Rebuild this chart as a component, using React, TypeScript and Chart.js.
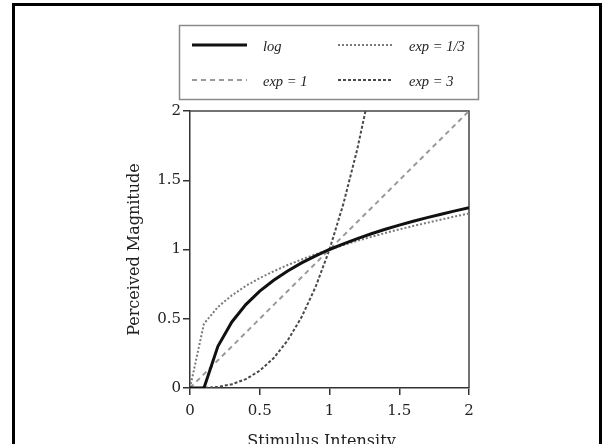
import React, { useEffect, useRef } from "react";
import { Chart, registerables } from "chart.js";

Chart.register(...registerables);

// ---- data ----
const stimulus = [0, 0.1, 0.2, 0.3, 0.4, 0.5, 0.6, 0.7, 0.8, 0.9, 1.0, 1.1, 1.2, 1.3, 1.4, 1.5, 1.6, 1.7, 1.8, 1.9, 2.0];
const logValues = [0, 0, 0.301, 0.477, 0.602, 0.699, 0.778, 0.845, 0.903, 0.954, 1.0, 1.041, 1.079, 1.114, 1.146, 1.176, 1.204, 1.23, 1.255, 1.279, 1.301];
const expThirdValues = [0, 0.464, 0.585, 0.669, 0.737, 0.794, 0.843, 0.888, 0.928, 0.965, 1.0, 1.032, 1.063, 1.091, 1.119, 1.145, 1.17, 1.193, 1.216, 1.239, 1.26];
const expOneValues = [0, 0.1, 0.2, 0.3, 0.4, 0.5, 0.6, 0.7, 0.8, 0.9, 1.0, 1.1, 1.2, 1.3, 1.4, 1.5, 1.6, 1.7, 1.8, 1.9, 2.0];
const expThreeValues = [0, 0.001, 0.008, 0.027, 0.064, 0.125, 0.216, 0.343, 0.512, 0.729, 1.0, 1.331, 1.728, 2.197];
const seriesLabels = ["log", "exp = 1/3", "exp = 1", "exp = 3"];
const axisTicks = [0, 0.5, 1, 1.5, 2];
const xTitle = "Stimulus Intensity";
const yTitle = "Perceived Magnitude";

const SERIF = "'DejaVu Serif', serif";

const toPoints = (ys: number[]) => ys.map((y, i) => ({ x: stimulus[i], y }));

const framePlugin = {
  id: "frameAndLegend",
  beforeDraw(chart: any) {
    const ctx = chart.ctx;
    ctx.save();
    ctx.fillStyle = "#ffffff";
    ctx.fillRect(0, 0, chart.width, chart.height);
    ctx.strokeStyle = "#000000";
    ctx.lineWidth = 3;
    ctx.beginPath();
    ctx.moveTo(13.5, chart.height);
    ctx.lineTo(13.5, 4.5);
    ctx.lineTo(chart.width - 1.5, 4.5);
    ctx.lineTo(chart.width - 1.5, chart.height);
    ctx.stroke();
    ctx.restore();
  },
  beforeDatasetsDraw(chart: any) {
    const { ctx, chartArea } = chart;
    ctx.save();
    ctx.strokeStyle = "#444";
    ctx.lineWidth = 1.5;
    ctx.beginPath();
    ctx.moveTo(chartArea.left, chartArea.top);
    ctx.lineTo(chartArea.right, chartArea.top);
    ctx.lineTo(chartArea.right, chartArea.bottom);
    ctx.stroke();
    ctx.restore();
  },
  afterDraw(chart: any) {
    const ctx = chart.ctx;
    ctx.save();
    // x-axis title (slightly left of the plot centre, as in the reference)
    ctx.fillStyle = "#222";
    ctx.font = "16px " + SERIF;
    ctx.textAlign = "center";
    ctx.textBaseline = "alphabetic";
    ctx.fillText(xTitle, 321.5, 446);
    // legend box
    ctx.strokeStyle = "#8a8a8a";
    ctx.lineWidth = 1.5;
    ctx.strokeRect(179.5, 25.5, 299, 74);
    const colX = [192, 338];
    const rowY = [45, 80];
    const lineLen = 55;
    chart.data.datasets.forEach((ds: any, i: number) => {
      const col = i % 2;
      const row = Math.floor(i / 2);
      const x0 = colX[col];
      const y0 = rowY[row];
      ctx.strokeStyle = ds.borderColor;
      ctx.lineWidth = ds.borderWidth;
      ctx.setLineDash(ds.borderDash || []);
      ctx.beginPath();
      ctx.moveTo(x0, y0);
      ctx.lineTo(x0 + lineLen, y0);
      ctx.stroke();
      ctx.setLineDash([]);
      ctx.fillStyle = "#222";
      ctx.font = "italic 14.5px 'Liberation Serif', serif";
      ctx.textBaseline = "middle";
      ctx.textAlign = "left";
      ctx.fillText(ds.label, x0 + lineLen + 16, y0 + 2);
    });
    ctx.restore();
  },
};

export default function App() {
  const canvasRef = useRef<HTMLCanvasElement | null>(null);

  useEffect(() => {
    if (!canvasRef.current) return;
    const tickFont = { family: SERIF, size: 15 };
    const titleFont = { family: SERIF, size: 16 };
    const chart = new Chart(canvasRef.current, {
      type: "line",
      data: {
        datasets: [
          {
            label: seriesLabels[0],
            data: toPoints(logValues),
            borderColor: "#111111",
            borderWidth: 3,
            pointRadius: 0,
            tension: 0,
          },
          {
            label: seriesLabels[1],
            data: toPoints(expThirdValues),
            borderColor: "#7a7a7a",
            borderWidth: 2,
            borderDash: [2, 2],
            pointRadius: 0,
            tension: 0,
          },
          {
            label: seriesLabels[2],
            data: toPoints(expOneValues),
            borderColor: "#9a9a9a",
            borderWidth: 2,
            borderDash: [5, 4],
            pointRadius: 0,
            tension: 0,
          },
          {
            label: seriesLabels[3],
            data: toPoints(expThreeValues),
            borderColor: "#4a4a4a",
            borderWidth: 2,
            borderDash: [3, 2],
            pointRadius: 0,
            tension: 0,
          },
        ],
      },
      options: {
        responsive: false,
        animation: false,
        events: [],
        layout: { padding: { left: 0, top: 111, right: 133, bottom: 0 } },
        plugins: {
          legend: { display: false },
          tooltip: { enabled: false },
          title: { display: false },
        },
        scales: {
          x: {
            type: "linear",
            min: 0,
            max: 2,
            afterFit: (s: any) => {
              s.height = 56;
            },
            afterBuildTicks: (s: any) => {
              s.ticks = axisTicks.map((v) => ({ value: v }));
            },
            ticks: {
              font: tickFont,
              color: "#222",
              padding: 7,
              maxRotation: 0,
              callback: (v: any) => String(v),
            },
            grid: {
              drawOnChartArea: false,
              drawTicks: true,
              tickLength: 7,
              color: "#333",
              lineWidth: 1.5,
            },
            border: { display: true, color: "#333", width: 1.5 },
            title: { display: false, text: xTitle },
          },
          y: {
            type: "linear",
            min: 0,
            max: 2,
            afterFit: (s: any) => {
              s.width = 190;
            },
            afterBuildTicks: (s: any) => {
              s.ticks = axisTicks.map((v) => ({ value: v }));
            },
            ticks: {
              font: tickFont,
              color: "#222",
              padding: 2,
              callback: (v: any) => String(v),
            },
            grid: {
              drawOnChartArea: false,
              drawTicks: true,
              tickLength: 7,
              color: "#333",
              lineWidth: 1.5,
            },
            border: { display: true, color: "#333", width: 1.5 },
            title: {
              display: true,
              text: yTitle,
              font: titleFont,
              color: "#222",
              padding: { top: 125.4, bottom: 0 },
            },
          },
        },
      },
      plugins: [framePlugin],
    });
    return () => chart.destroy();
  }, []);

  return (
    <div style={{ position: "fixed", left: 0, top: 0, width: 602, height: 444, overflow: "hidden", background: "#fff" }}>
      <canvas ref={canvasRef} width={602} height={444} style={{ width: 602, height: 444, display: "block" }} />
    </div>
  );
}
